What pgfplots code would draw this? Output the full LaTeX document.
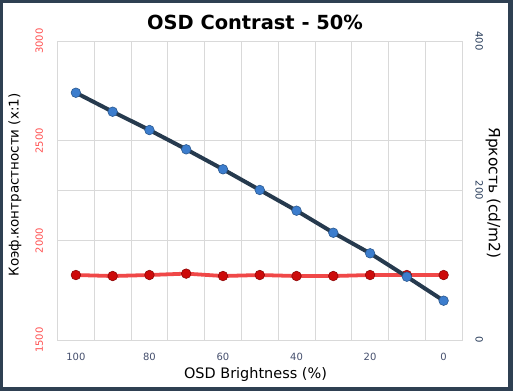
\documentclass[border=0pt]{standalone}
\usepackage{pgfplots}
\pgfplotsset{compat=1.18}
\usepackage{fontspec}
\setmainfont{DejaVu Sans}
\definecolor{frameC}{RGB}{47,64,82}
\definecolor{gridC}{RGB}{217,217,217}
\definecolor{redTick}{RGB}{255,80,80}
\definecolor{blueTick}{RGB}{40,60,90}
\definecolor{xTick}{RGB}{70,80,110}
\definecolor{lineBlue}{RGB}{38,58,78}
\definecolor{ballBlue}{RGB}{60,125,205}
\definecolor{lineRed}{RGB}{240,72,72}
\definecolor{ballRed}{RGB}{205,10,10}
\pgfplotstableread{
x y
100 1826
90 1821
80 1826
70 1833
60 1821
50 1826
40 1821
30 1821
20 1826
10 1826
0 1826
}\contrast
\pgfplotstableread{
x y
100 330.8
90 305.4
80 280.9
70 255.1
60 228.4
50 200.7
40 173
30 143.5
20 116
10 84.7
0 52.6
}\brightness
\pgfplotsset{
  /pgf/number format/assume math mode=true,
  /pgf/number format/set thousands separator={},
}
\begin{document}
\begin{tikzpicture}[x=1bp,y=1bp]
\fill[frameC] (0,0) rectangle (513,391);
\fill[white] (3,4) rectangle (508,388);
\node[font=\bfseries\fontsize{19.5}{22}\selectfont] at (255,369) {OSD Contrast - 50\%};
\begin{axis}[
  at={(57.5bp,51bp)}, anchor=south west, scale only axis,
  width=404.5bp, height=299bp,
  xmin=-5, xmax=105, x dir=reverse,
  ymin=1500, ymax=3000,
  ytick={1500,2000,2500,3000},
  xtick={0,20,...,100},
  minor xtick={-5,5,...,105},
  xminorgrids=true, ymajorgrids=true,
  grid style={gridC, line width=0.8pt},
  minor grid style={gridC, line width=0.8pt},
  axis line style={gridC, line width=0.8pt},
  tick style={draw=none},
  major tick length=0pt, minor tick length=0pt,
  ticklabel style={font=\fontsize{10}{11}\selectfont},
  yticklabel style={rotate=90, anchor=south, color=redTick, yshift=11bp},
  xticklabel style={color=xTick, yshift=-10bp},
  clip=false,
]
\addplot[lineRed, line width=3.8pt, mark=*, mark size=4.8bp, mark options={fill=ballRed, draw=ballRed!70!black, line width=0.6pt}] table[x=x,y=y] {\contrast};
\end{axis}
\begin{axis}[
  at={(57.5bp,51bp)}, anchor=south west, scale only axis,
  width=404.5bp, height=299bp,
  xmin=-5, xmax=105, x dir=reverse,
  ymin=0, ymax=400,
  ytick={0,200,400},
  ymajorgrids=true,
  grid style={gridC, line width=0.8pt},
  axis y line*=right, axis x line=none,
  axis line style={gridC, line width=0.8pt},
  tick style={draw=none},
  major tick length=0pt,
  ticklabel style={font=\fontsize{10}{11}\selectfont},
  yticklabel style={rotate=-90, anchor=south, color=blueTick, yshift=10bp},
  clip=false,
]
\addplot[lineBlue, line width=4pt, mark=*, mark size=4.8bp, mark options={fill=ballBlue, draw=ballBlue!70!black, line width=0.6pt}] table[x=x,y=y] {\brightness};
\end{axis}
\node[rotate=90, font=\fontsize{13.5}{15}\selectfont] at (15,206) {Коэф.контрастности (x:1)};
\node[rotate=-90, font=\fontsize{15.5}{17}\selectfont] at (493,198) {Яркость (cd/m2)};
\node[font=\fontsize{14.5}{16}\selectfont] at (255.5,16) {OSD Brightness (\%)};
\end{tikzpicture}
\end{document}
